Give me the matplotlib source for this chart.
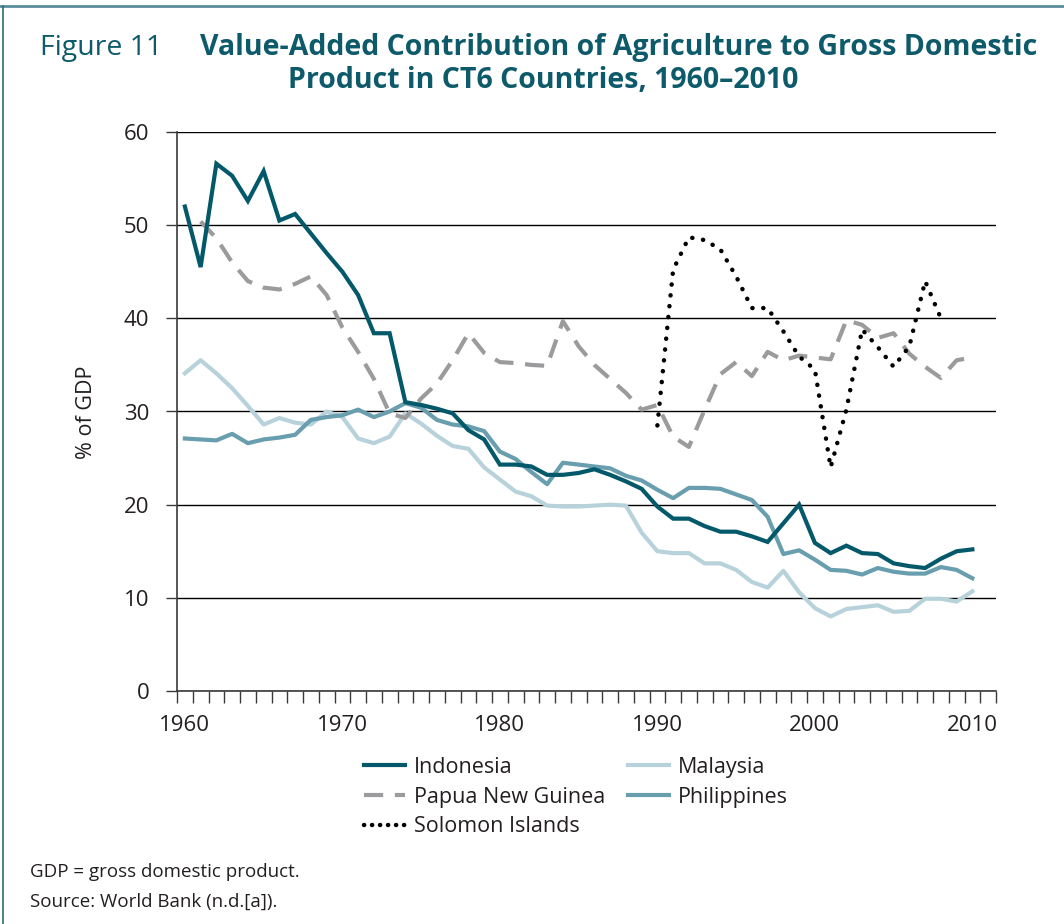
import numpy as np
import matplotlib
matplotlib.use("Agg")
import matplotlib.pyplot as plt
from matplotlib.lines import Line2D

W, H = 1064, 924

years = list(range(1960, 2011))
png_years = list(range(1961, 2011))
sol_years = list(range(1990, 2009))

indonesia = [52.0, 45.5, 56.6, 55.3, 52.6, 55.8, 50.5, 51.2, 49.1, 47.0,
             45.0, 42.5, 38.4, 38.4, 31.0, 30.7, 30.3, 29.8, 28.0, 27.0,
             24.3, 24.3, 24.1, 23.2, 23.2, 23.4, 23.8, 23.2, 22.5, 21.7,
             19.8, 18.5, 18.5, 17.7, 17.1, 17.1, 16.6, 16.0, 18.0, 20.0,
             15.9, 14.8, 15.6, 14.8, 14.7, 13.7, 13.4, 13.2, 14.2, 15.0, 15.2]
malaysia = [34.1, 35.5, 34.1, 32.5, 30.6, 28.6, 29.3, 28.8, 28.6, 30.0,
            29.4, 27.1, 26.6, 27.3, 29.8, 28.7, 27.4, 26.3, 26.0, 24.0,
            22.7, 21.4, 20.9, 19.9, 19.8, 19.8, 19.9, 20.0, 19.9, 17.0,
            15.0, 14.8, 14.8, 13.7, 13.7, 13.0, 11.7, 11.1, 12.9, 10.6,
            8.9, 8.0, 8.8, 9.0, 9.2, 8.5, 8.6, 9.9, 9.9, 9.6, 10.7]
philippines = [27.1, 27.0, 26.9, 27.6, 26.6, 27.0, 27.2, 27.5, 29.1, 29.4,
               29.6, 30.2, 29.4, 30.0, 30.9, 30.4, 29.1, 28.6, 28.4, 27.9,
               25.7, 24.9, 23.5, 22.2, 24.5, 24.3, 24.1, 23.9, 23.1, 22.6,
               21.6, 20.7, 21.8, 21.8, 21.7, 21.1, 20.5, 18.7, 14.7, 15.1,
               14.1, 13.0, 12.9, 12.5, 13.2, 12.8, 12.6, 12.6, 13.3, 13.0, 12.1]
papua = [50.4, 48.6, 46.0, 44.0, 43.3, 43.1, 43.7, 44.5, 42.5,
         39.0, 36.4, 33.5, 29.8, 29.3, 31.4, 33.0, 35.5, 38.4, 36.3,
         35.3, 35.2, 35.0, 34.9, 39.7, 37.0, 35.0, 33.5, 32.0, 30.2,
         30.7, 27.3, 26.2, 30.2, 34.0, 35.3, 33.8, 36.4, 35.5, 36.0,
         35.8, 35.6, 39.8, 39.3, 37.9, 38.4, 36.2, 34.8, 33.6, 35.5, 35.8]
solomon = [28.5, 45.2, 48.7, 48.4, 47.4, 44.5, 41.1, 41.1, 38.6, 35.9,
           34.5, 24.0, 30.2, 38.8, 36.9, 34.8, 37.0, 44.0, 40.0]

yticks = [0, 10, 20, 30, 40, 50, 60]
xlabels = [1960, 1970, 1980, 1990, 2000, 2010]

c_indo = "#03596a"
c_mal = "#b7d2db"
c_png = "#9b9b9d"
c_phil = "#699eaf"
c_title = "#0d5a6a"
c_text = "#231f20"

plt.rcParams["font.family"] = ["Open Sans", "DejaVu Sans"]


def fx(px):
    return px / W


def fy(py):
    return 1 - py / H


fig = plt.figure(figsize=(W / 100, H / 100), dpi=100)
ax = fig.add_axes([fx(177), fy(691), fx(996) - fx(177), fy(132) - fy(691)])

lw = 3.0
ax.plot(years, malaysia, color=c_mal, lw=lw, solid_joinstyle="round", label="Malaysia", zorder=3)
ax.plot(years, philippines, color=c_phil, lw=lw, solid_joinstyle="round", label="Philippines", zorder=4)
ax.plot(png_years, papua, color=c_png, lw=lw, linestyle=(0, (4.6, 2.8)),
        dash_capstyle="butt", label="Papua New Guinea", zorder=3)
ax.plot(years, indonesia, color=c_indo, lw=lw, solid_joinstyle="miter", label="Indonesia", zorder=5)
ax.plot(sol_years, solomon, color="black", lw=3.2, linestyle=(0, (0.05, 2.4)),
        dash_capstyle="round", label="Solomon Islands", zorder=6)

ax.set_xlim(1959.5, 2011.5)
ax.set_ylim(0, 60)
ax.set_yticks(yticks)
ax.set_xticks(xlabels)
ax.set_xticks(np.arange(1959.5, 2012, 1.0), minor=True)
ax.grid(axis="y", color="black", lw=1.0)
ax.set_axisbelow(True)

for s in ["top", "right"]:
    ax.spines[s].set_visible(False)
for s in ["left", "bottom"]:
    ax.spines[s].set_color("#3a3a3a")
    ax.spines[s].set_linewidth(1.2)

ax.tick_params(axis="x", which="major", length=0, pad=17, labelsize=16, labelcolor=c_text)
ax.tick_params(axis="x", which="minor", length=8.6, width=1.0, color="#3a3a3a", direction="out")
ax.tick_params(axis="y", which="major", length=8, width=1.0, color="#3a3a3a", pad=12,
               labelsize=16, labelcolor=c_text)

fig.text(fx(86), fy(412), "% of GDP", rotation=90, ha="center", va="center",
         fontsize=15.5, color=c_text)

# title
fig.text(fx(40), fy(55), "Figure 11", fontsize=20.5, color=c_title, va="baseline", ha="left")
fig.text(fx(200), fy(55), "Value-Added Contribution of Agriculture to Gross Domestic",
         fontsize=20.5, fontweight="bold", color=c_title, va="baseline", ha="left")
fig.text(fx(543), fy(88), "Product in CT6 Countries, 1960\u20132010",
         fontsize=20.5, fontweight="bold", color=c_title, va="baseline", ha="center")

# legend (column-wise fill); solomon handle gets tighter dots like the source
handles, labels = ax.get_legend_handles_labels()
hmap = dict(zip(labels, handles))
hmap["Solomon Islands"] = Line2D([], [], color="black", lw=3.2, linestyle=(0, (0.05, 1.75)),
                                 dash_capstyle="round")
order = ["Indonesia", "Papua New Guinea", "Solomon Islands", "Malaysia", "Philippines"]
leg = fig.legend([hmap[k] for k in order], order, loc="upper left",
                 bbox_to_anchor=(fx(364), fy(757)), ncol=2, frameon=False,
                 fontsize=15.5, handlelength=1.9, handletextpad=0.4,
                 columnspacing=1.1, labelspacing=0.4, borderpad=0, borderaxespad=0)
for t in leg.get_texts():
    t.set_color(c_text)

# notes
fig.text(fx(30), fy(877), "GDP = gross domestic product.", fontsize=13.5, color=c_text, va="baseline")
fig.text(fx(30), fy(907), "Source: World Bank (n.d.[a]).", fontsize=13.5, color=c_text, va="baseline")

# frame lines
fig.add_artist(Line2D([0, 1], [fy(6), fy(6)], color="#5a8e99", lw=2.0))
fig.add_artist(Line2D([fx(2.5), fx(2.5)], [0, fy(6)], color="#2b6f7d", lw=1.2))

fig.savefig("out.png", dpi=100)
